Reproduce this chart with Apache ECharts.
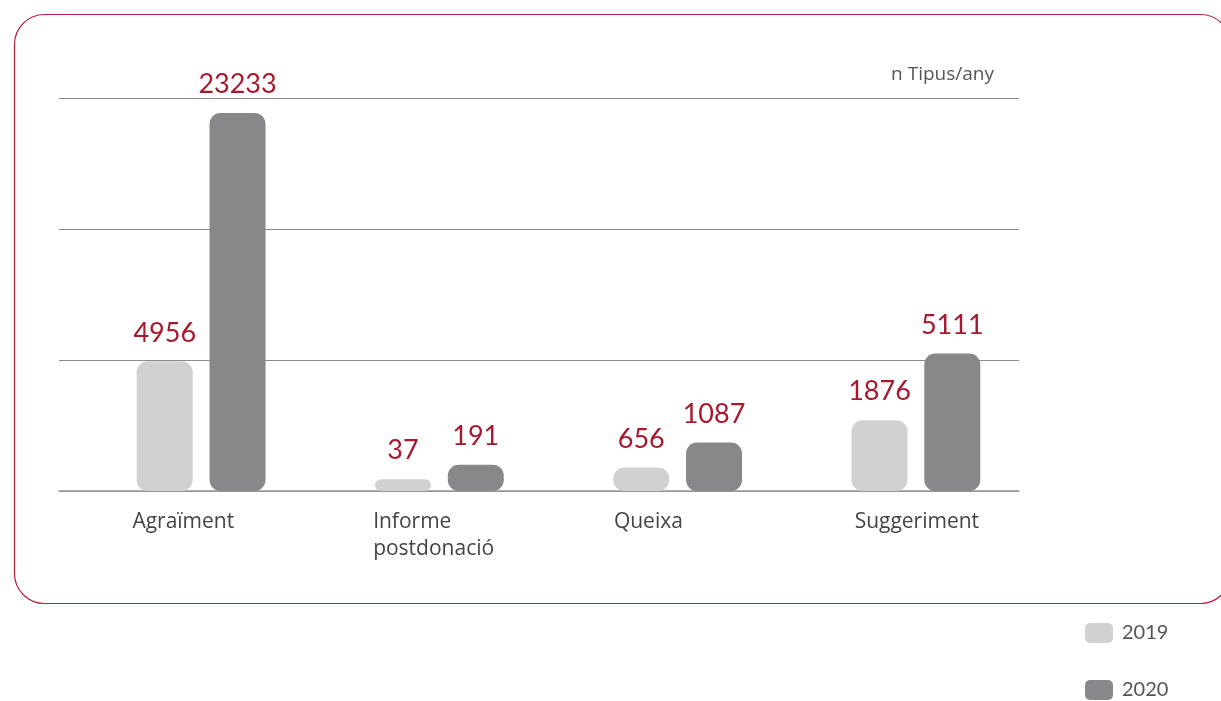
<!DOCTYPE html>
<html>
<head>
<meta charset="utf-8">
<script src="https://cdn.jsdelivr.net/npm/echarts@6/dist/echarts.min.js"></script>
<style>
  html, body { margin: 0; padding: 0; background: #fff; }
  #chart { width: 1221px; height: 701px; }
</style>
</head>
<body>
<div id="chart"></div>
<script>
// categories and years
const categories = ['Agraïment', 'Informe\npostdonació', 'Queixa', 'Suggeriment']
const years = ['2019', '2020']

// counts shown as labels
const counts2019 = [4956, 37, 656, 1876]
const counts2020 = [23233, 191, 1087, 5111]

// bar heights as drawn in the reference (units of one gridline step,
// the original graphic is not drawn to a linear scale)
const heights2019 = [0.99, 0.09, 0.18, 0.54]
const heights2020 = [2.885, 0.2, 0.37, 1.05]

const red = '#a6192e'
const colors = ['#d1d1d0', '#87888a']
const font = '"Open Sans", "Noto Sans", sans-serif'
const numFont = 'Lato, "Noto Sans", sans-serif'

const chart = echarts.init(document.getElementById('chart'))

function makeSeries(name, heights, counts, color) {
  return {
    name: name,
    type: 'bar',
    xAxisIndex: 1,
    yAxisIndex: 1,
    barWidth: 56,
    barGap: '30%',
    itemStyle: { color: color, borderRadius: 11 },
    label: {
      show: true,
      position: 'top',
      distance: 15,
      color: red,
      fontSize: 27,
      fontFamily: numFont,
      formatter: p => counts[p.dataIndex]
    },
    data: heights
  }
}

chart.setOption({
  animation: false,
  title: {
    text: 'n Tipus/any',
    right: 222,
    top: 60,
    textStyle: { color: '#555', fontSize: 19, fontWeight: 'normal', fontFamily: font }
  },
  legend: {
    data: years,
    orient: 'vertical',
    left: 1085,
    top: 623,
    padding: 0,
    itemWidth: 28,
    itemHeight: 20,
    itemGap: 37,
    icon: 'roundRect',
    textStyle: { color: '#555', fontSize: 20, fontFamily: numFont, padding: [0, 0, 0, 4] }
  },
  graphic: [
    {
      type: 'rect',
      silent: true,
      shape: { x: 14.5, y: 14.5, width: 1216, height: 589, r: 30 },
      style: { fill: 'none', stroke: '#b8213c', lineWidth: 1.2 }
    }
  ],
  grid: [
    // gridlines
    { left: 59, width: 960, top: 98, bottom: 210 },
    // bars
    { left: 82, width: 953, top: 98, bottom: 210 },
    // category labels, left aligned
    { left: 12, width: 963, top: 98, bottom: 210 }
  ],
  xAxis: [
    {
      gridIndex: 0,
      type: 'category',
      data: categories,
      axisLine: { lineStyle: { color: '#999', width: 1.5 } },
      axisTick: { show: false },
      axisLabel: { show: false }
    },
    {
      gridIndex: 1,
      type: 'category',
      data: categories,
      axisLine: { show: false },
      axisTick: { show: false },
      axisLabel: { show: false }
    },
    {
      gridIndex: 2,
      type: 'category',
      data: categories,
      axisLine: { show: false },
      axisTick: { show: false },
      axisLabel: {
        align: 'left',
        margin: 18,
        color: '#444',
        fontSize: 21,
        lineHeight: 27,
        fontFamily: font
      }
    }
  ],
  yAxis: [
    {
      gridIndex: 0,
      type: 'value',
      min: 0,
      max: 3,
      interval: 1,
      axisLine: { show: false },
      axisTick: { show: false },
      axisLabel: { show: false },
      splitLine: { lineStyle: { color: '#8a8a8a', width: 1 } }
    },
    {
      gridIndex: 1,
      type: 'value',
      min: 0,
      max: 3,
      interval: 1,
      show: false
    },
    {
      gridIndex: 2,
      type: 'value',
      min: 0,
      max: 3,
      show: false
    }
  ],
  series: [
    makeSeries(years[0], heights2019, counts2019, colors[0]),
    makeSeries(years[1], heights2020, counts2020, colors[1])
  ]
})
</script>
</body>
</html>
